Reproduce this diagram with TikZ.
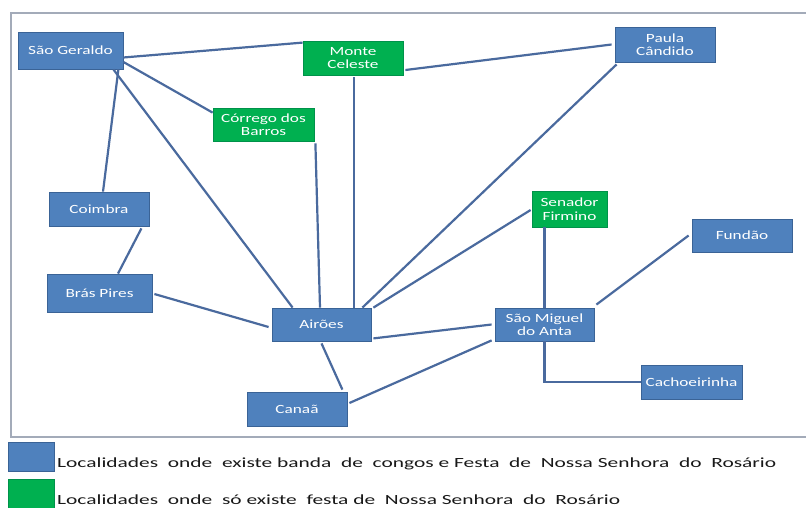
\documentclass[tikz,border=0pt]{standalone}
\usepackage{fontspec}
\setmainfont{Carlito}[FakeStretch=1.38]
\newfontfamily\legfont{Carlito}[FakeStretch=1.53]
\definecolor{boxblue}{HTML}{4F81BD}
\definecolor{boxblueedge}{HTML}{3A6396}
\definecolor{boxgreen}{HTML}{00B050}
\definecolor{boxgreenedge}{HTML}{00924A}
\definecolor{linkcol}{HTML}{4A6A9E}
\definecolor{framecol}{HTML}{A3ABB9}
\begin{document}
\begin{tikzpicture}[x=1pt,y=-1pt,
  place/.style={rectangle, fill=boxblue, draw=boxblueedge, line width=0.8pt,
    text=white, align=center, inner sep=0pt,
    font=\fontsize{12.5}{13.5}\selectfont},
  bluebox/.style={place},
  greenbox/.style={place, fill=boxgreen, draw=boxgreenedge},
  link/.style={draw=linkcol, line width=2.2pt},
  legtext/.style={anchor=base west, inner sep=0pt, text=black!90,
    font=\legfont\fontsize{14}{16}\selectfont}]
\useasboundingbox (0,0) rectangle (806,507);
\fill[white] (0,0) rectangle (806,507);
% frame
\draw[framecol, line width=1.6pt] (812,13) -- (11,13) -- (11,437) -- (812,437);
% nodes
\node[bluebox, minimum width=105pt, minimum height=37pt] (SG) at (70.5,50.5) {São Geraldo};
\node[greenbox, minimum width=100pt, minimum height=34pt] (MC) at (353,58) {Monte\\Celeste};
\node[greenbox, minimum width=101pt, minimum height=33pt] (CB) at (263.5,124.5) {Córrego dos\\Barros};
\node[bluebox, minimum width=100pt, minimum height=35pt] (PC) at (665,44.5) {Paula\\Cândido};
\node[bluebox, minimum width=100pt, minimum height=34pt] (Co) at (99,209) {Coimbra};
\node[bluebox, minimum width=105pt, minimum height=38pt] (BP) at (99.5,293) {Brás Pires};
\node[bluebox, minimum width=99pt, minimum height=33pt] (Ai) at (321.5,324.5) {Airões};
\node[bluebox, minimum width=100pt, minimum height=34pt] (Ca) at (297,409) {Canaã};
\node[greenbox, minimum width=75pt, minimum height=36pt] (SF) at (569.5,209) {Senador\\Firmino};
\node[bluebox, minimum width=100pt, minimum height=33pt] (Fu) at (742,235.5) {Fundão};
\node[bluebox, minimum width=99pt, minimum height=33pt] (SM) at (544.5,324.5) {São Miguel\\do Anta};
\node[bluebox, minimum width=101pt, minimum height=34pt] (Ch) at (691.5,382) {Cachoeirinha};
% connectors
\draw[link] ([shift={(0,7)}]SG.east) -- ([shift={(0,2)}]MC.north west);
\draw[link] ([shift={(2,12)}]MC.east) -- ([shift={(-3,0)}]PC.west);
\draw[link] ([shift={(0,11.5)}]SG.east) -- ([shift={(0,5)}]CB.north west);
\draw[link] ([shift={(-5,0)}]SG.south east) -- ([shift={(4,0)}]Co.north);
\draw[link] ([shift={(-10,0)}]SG.south east) -- ([shift={(21,0)}]Ai.north west);
\draw[link] ([shift={(1,2)}]CB.south east) -- ([shift={(-1.5,0)}]Ai.north);
\draw[link] ([shift={(1,2)}]MC.south) -- ([shift={(32.5,0)}]Ai.north);
\draw[link] ([shift={(2,2)}]PC.south west) -- ([shift={(-9,0)}]Ai.north east);
\draw[link] ([shift={(-1,1)}]SF.west) -- ([shift={(2,0)}]Ai.north east);
\draw[link] ([shift={(2,-3)}]Ai.south east) -- ([shift={(-3,0)}]SM.west);
\draw[link] ([shift={(2,-6)}]Ca.east) -- ([shift={(-3,-1)}]SM.south west);
\draw[link] ([shift={(0,2)}]Ai.south) -- ([shift={(-5,-2)}]Ca.north east);
\draw[link] ([shift={(2,1)}]BP.east) -- ([shift={(-3,2.5)}]Ai.west);
\draw[link] ([shift={(-8,2)}]Co.south east) -- ([shift={(18.5,0)}]BP.north);
\draw[link] (SM.north) -- (SM.north |- SF.south);
\draw[link] ([shift={(-3,0)}]Fu.west) -- ([shift={(2,-3)}]SM.north east);
\draw[link] (SM.south) |- (Ch.west);
% legend
\node[rectangle, fill=boxblue, draw=boxblueedge, line width=0.8pt, minimum width=46pt, minimum height=29pt, inner sep=0pt] (LB) at (31,456.5) {};
\node[rectangle, fill=boxgreen, draw=boxgreenedge, line width=0.8pt, minimum width=46pt, minimum height=29pt, inner sep=0pt] (LG) at (31,493.5) {};
\node[legtext] (LT1) at (57,467) {Localidades\ \ onde\ \ existe banda\ \ de\ \ congos\ e Festa\ \ de\ \ Nossa Senhora\ \ do\ \ Rosário};
\node[legtext] (LT2) at (57,504) {Localidades\ \ onde\ \ só existe\ \ festa de\ \ Nossa Senhora\ \ do\ \ Rosário};
\end{tikzpicture}
\end{document}
